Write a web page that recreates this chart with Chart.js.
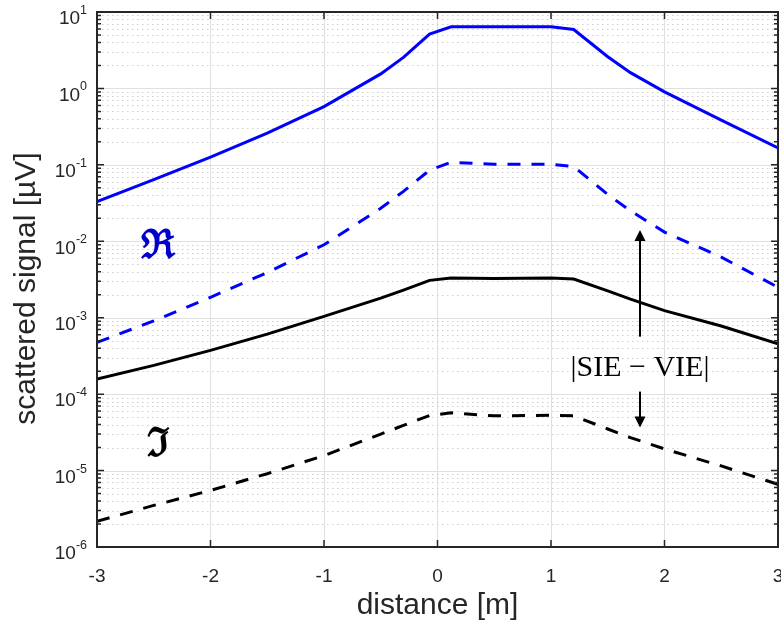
<!DOCTYPE html>
<html>
<head>
<meta charset="utf-8">
<script src="https://cdn.jsdelivr.net/npm/chart.js@4.4.0/dist/chart.umd.min.js"></script>
<style>
  body { margin: 0; background: #fff; }
</style>
</head>
<body>
<canvas id="signalChart" width="781" height="626"></canvas>
<script>
// distance along the profile [m]
const distance = [-3, -2.5, -2, -1.5, -1, -0.5, -0.3, -0.07, 0.12, 0.5, 1.0, 1.2, 1.5, 1.7, 2, 2.5, 3];
// blue: real part, black: imaginary part ; solid = signal, dashed = |SIE - VIE|
const reSignal = [0.033, 0.064, 0.126, 0.26, 0.578, 1.55, 2.55, 5.15, 6.4, 6.4, 6.4, 5.9, 2.6, 1.61, 0.9, 0.385, 0.167];
const reDiff = [4.75e-4, 9.1e-4, 1.85e-3, 3.9e-3, 9.0e-3, 0.027, 0.045, 0.085, 0.108, 0.102, 0.102, 0.095, 0.041, 0.025, 0.0132, 0.0062, 0.0025];
const imSignal = [1.58e-4, 2.38e-4, 3.74e-4, 6.1e-4, 1.04e-3, 1.8e-3, 2.3e-3, 3.08e-3, 3.3e-3, 3.25e-3, 3.3e-3, 3.2e-3, 2.24e-3, 1.75e-3, 1.24e-3, 7.8e-4, 4.57e-4];
const imDiff = [2.17e-6, 3.5e-6, 5.5e-6, 9.1e-6, 1.57e-5, 3.0e-5, 3.9e-5, 5.25e-5, 5.7e-5, 5.2e-5, 5.3e-5, 5.2e-5, 3.5e-5, 2.7e-5, 1.92e-5, 1.15e-5, 6.6e-6];
// tick labels
const xTicks = [-3, -2, -1, 0, 1, 2, 3];
const yExponents = [-6, -5, -4, -3, -2, -1, 0, 1];

const axisColor = '#262626';
const sans = "'Liberation Sans', Arial, sans-serif";

function points(values) {
    return distance.map((d, i) => ({ x: d, y: values[i] }));
}

function arrow(ctx, x, y0, y1) {
    // shaft from y0 to tip y1
    const dir = y1 < y0 ? 1 : -1;
    ctx.beginPath();
    ctx.moveTo(x, y0);
    ctx.lineTo(x, y1 + dir * 8);
    ctx.stroke();
    ctx.beginPath();
    ctx.moveTo(x, y1);
    ctx.lineTo(x - 5.5, y1 + dir * 11);
    ctx.lineTo(x + 5.5, y1 + dir * 11);
    ctx.closePath();
    ctx.fill();
}

const frame = {
    id: 'frame',
    beforeDatasetsDraw(chart) {
        const { ctx, chartArea: a, scales: { y } } = chart;
        ctx.save();
        ctx.lineWidth = 1;
        // minor grid (dotted)
        ctx.strokeStyle = '#cfcfcf';
        ctx.setLineDash([1.5, 3.5]);
        yExponents.slice(0, -1).forEach(e => {
            for (let m = 2; m <= 9; m++) {
                const py = Math.round(y.getPixelForValue(m * Math.pow(10, e))) + 0.5;
                ctx.beginPath();
                ctx.moveTo(a.left, py);
                ctx.lineTo(a.right, py);
                ctx.stroke();
            }
        });
        // major grid
        ctx.setLineDash([]);
        ctx.strokeStyle = '#e0e0e0';
        yExponents.forEach(e => {
            const py = Math.round(y.getPixelForValue(Math.pow(10, e))) + 0.5;
            ctx.beginPath();
            ctx.moveTo(a.left, py);
            ctx.lineTo(a.right, py);
            ctx.stroke();
        });
        ctx.restore();
    },
    afterDatasetsDraw(chart) {
        const { ctx, chartArea: a, scales: { x, y } } = chart;
        ctx.save();
        ctx.strokeStyle = axisColor;
        ctx.fillStyle = axisColor;
        ctx.lineWidth = 1.5;
        // ticks pointing inward
        xTicks.forEach(t => {
            const px = x.getPixelForValue(t);
            ctx.beginPath();
            ctx.moveTo(px, a.bottom); ctx.lineTo(px, a.bottom - 7);
            ctx.moveTo(px, a.top); ctx.lineTo(px, a.top + 7);
            ctx.stroke();
        });
        yExponents.forEach((e, k) => {
            const py = y.getPixelForValue(Math.pow(10, e));
            ctx.beginPath();
            ctx.moveTo(a.left, py); ctx.lineTo(a.left + 7, py);
            ctx.moveTo(a.right, py); ctx.lineTo(a.right - 7, py);
            ctx.stroke();
            if (k < yExponents.length - 1) {
                for (let m = 2; m <= 9; m++) {
                    const pm = y.getPixelForValue(m * Math.pow(10, e));
                    ctx.beginPath();
                    ctx.moveTo(a.left, pm); ctx.lineTo(a.left + 4, pm);
                    ctx.moveTo(a.right, pm); ctx.lineTo(a.right - 4, pm);
                    ctx.stroke();
                }
            }
            // label 10^e
            const exp = String(e);
            ctx.font = '12.5px ' + sans;
            const ew = ctx.measureText(exp).width;
            ctx.textBaseline = 'middle';
            ctx.textAlign = 'left';
            ctx.fillText(exp, 87 - ew, py - 1.5);
            ctx.font = '19px ' + sans;
            ctx.textAlign = 'right';
            ctx.fillText('10', 87 - ew, py + 7);
        });
        // box
        ctx.lineWidth = 2;
        ctx.strokeRect(a.left, a.top, a.right - a.left, a.bottom - a.top);

        // y title
        ctx.save();
        ctx.translate(27, (a.top + a.bottom) / 2 + 9);
        ctx.rotate(-Math.PI / 2);
        ctx.font = '30px ' + sans;
        ctx.textAlign = 'center';
        ctx.textBaseline = 'middle';
        ctx.fillText('scattered signal [µV]', 0, 0);
        ctx.restore();

        // annotations
        ctx.textAlign = 'center';
        ctx.textBaseline = 'middle';
        ctx.font = "bold 40px 'DejaVu Serif', serif";
        ctx.fillStyle = '#0000cc';
        ctx.fillText('ℜ', x.getPixelForValue(-2.46), y.getPixelForValue(8.2e-3));
        ctx.fillStyle = '#000';
        ctx.fillText('ℑ', x.getPixelForValue(-2.46), y.getPixelForValue(2.1e-5));
        ctx.font = "30px 'Liberation Serif', serif";
        const ax = x.getPixelForValue(1.784);
        ctx.fillText('|SIE − VIE|', ax, y.getPixelForValue(2.22e-4));
        ctx.strokeStyle = '#000';
        ctx.lineWidth = 2;
        arrow(ctx, ax, y.getPixelForValue(5.65e-4), y.getPixelForValue(0.0141));
        arrow(ctx, ax, y.getPixelForValue(1.08e-4), y.getPixelForValue(3.65e-5));
        ctx.restore();
    }
};

const ctx = document.getElementById('signalChart').getContext('2d');
const signalChart = new Chart(ctx, {
    type: 'line',
    data: {
        datasets: [
            { data: points(reSignal), borderColor: '#0000ff', borderWidth: 3 },
            { data: points(reDiff), borderColor: '#0000ff', borderWidth: 3, borderDash: [13, 11] },
            { data: points(imSignal), borderColor: '#000000', borderWidth: 3 },
            { data: points(imDiff), borderColor: '#000000', borderWidth: 3, borderDash: [13, 11] }
        ]
    },
    options: {
        responsive: false,
        animation: false,
        devicePixelRatio: 1,
        parsing: false,
        layout: { padding: { left: 0, top: 12, right: 3, bottom: 0 } },
        elements: { point: { radius: 0 }, line: { tension: 0, fill: false } },
        plugins: { legend: { display: false }, tooltip: { enabled: false } },
        scales: {
            x: {
                type: 'linear',
                min: -3,
                max: 3,
                afterBuildTicks: scale => { scale.ticks = xTicks.map(v => ({ value: v })); },
                afterFit: scale => { scale.height = 79; scale.paddingLeft = 0; scale.paddingRight = 0; },
                ticks: { font: { family: sans, size: 19 }, color: axisColor, padding: 18, maxRotation: 0 },
                grid: { color: '#e0e0e0', lineWidth: 1, drawTicks: false },
                border: { display: false },
                title: { display: true, text: 'distance [m]', color: axisColor,
                         font: { family: sans, size: 30 }, padding: { top: 0, bottom: 2 } }
            },
            y: {
                type: 'logarithmic',
                min: 1e-6,
                max: 10,
                afterFit: scale => { scale.width = 97; },
                ticks: { display: false },
                grid: { display: false },
                border: { display: false }
            }
        }
    },
    plugins: [frame]
});
</script>
</body>
</html>
